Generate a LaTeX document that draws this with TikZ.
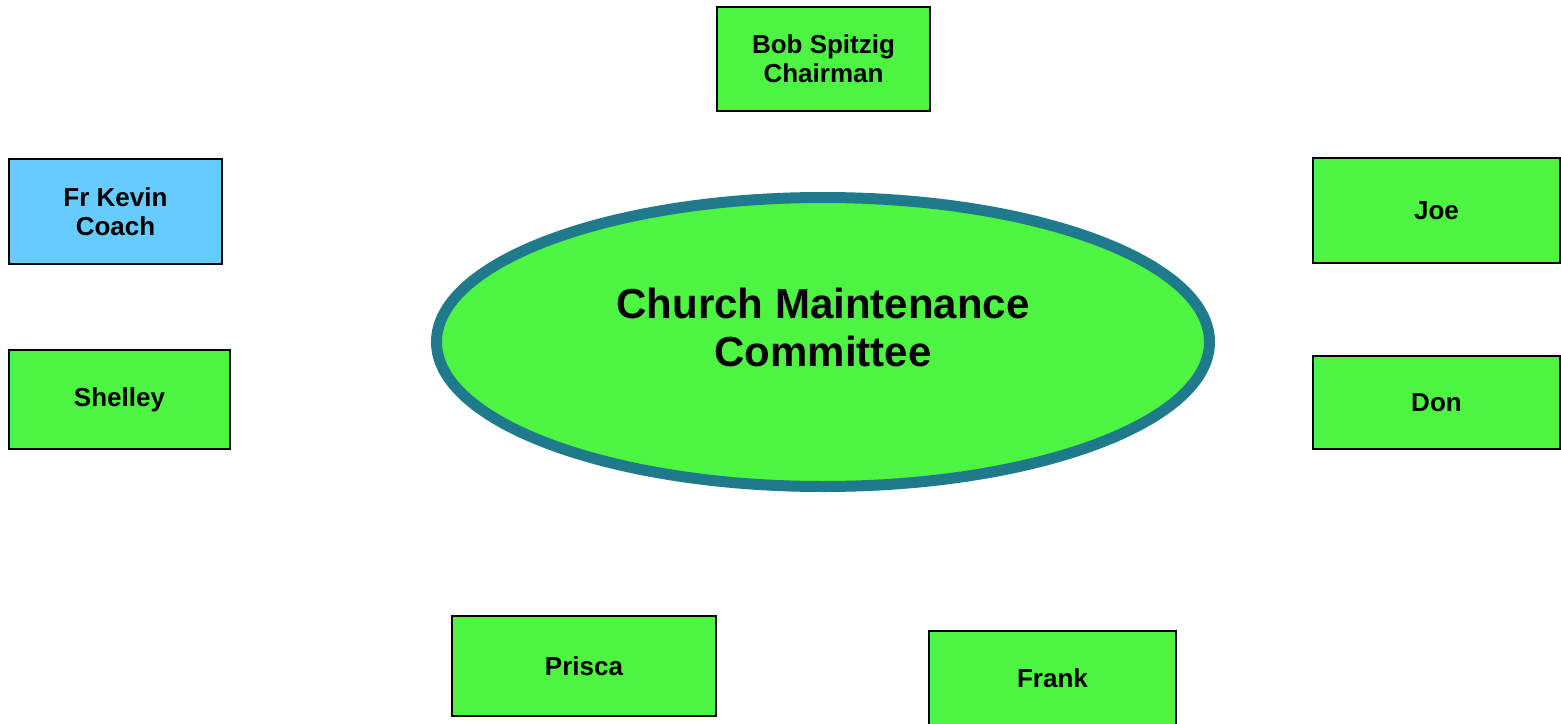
\documentclass[tikz,border=0pt]{standalone}
\usepackage{fontspec}
\setmainfont{Liberation Sans}
\usetikzlibrary{shapes.geometric}
\definecolor{boxgreen}{HTML}{4DF542}
\definecolor{boxblue}{HTML}{66CCFF}
\definecolor{rimteal}{HTML}{1F7A8C}
\begin{document}
\begin{tikzpicture}[x=1pt,y=-1pt,
  member/.style={draw=black,line width=1.5pt,fill=boxgreen,inner sep=0pt,
    font=\fontsize{26}{29}\selectfont\bfseries,align=center},
  coachbox/.style={member,fill=boxblue},
  lbl/.style={font=\fontsize{26}{29}\selectfont\bfseries,align=center}]
\useasboundingbox (0,0) rectangle (1561,723);
\clip (0,0) rectangle (1561,723);
\node[ellipse,draw=rimteal,line width=11pt,fill=boxgreen,minimum width=773pt,minimum height=289pt] (cmc) at (823,342) {};
\node[font=\fontsize{42}{48}\selectfont\bfseries,align=center] (cmclbl) at (823,327) {Church Maintenance\\Committee};
\node[member,minimum width=213pt,minimum height=104pt] (bob) at (823.5,59) {Bob Spitzig\\Chairman};
\node[coachbox,minimum width=213pt,minimum height=105pt] (kevin) at (115.5,211.5) {Fr Kevin\\Coach};
\node[member,minimum width=221pt,minimum height=99pt] (shelley) at (119.5,399.5) {Shelley};
\node[member,minimum width=247pt,minimum height=105pt] (joe) at (1436.5,210.5) {Joe};
\node[member,minimum width=247pt,minimum height=93pt] (don) at (1436.5,402.5) {Don};
\node[member,minimum width=264pt,minimum height=100pt] (prisca) at (584,666) {Prisca};
\node[member,minimum width=247pt,minimum height=100pt] (frank) at (1052.5,681) {};
\node[lbl] (franklbl) at (1052.5,678) {Frank};
\end{tikzpicture}
\end{document}
